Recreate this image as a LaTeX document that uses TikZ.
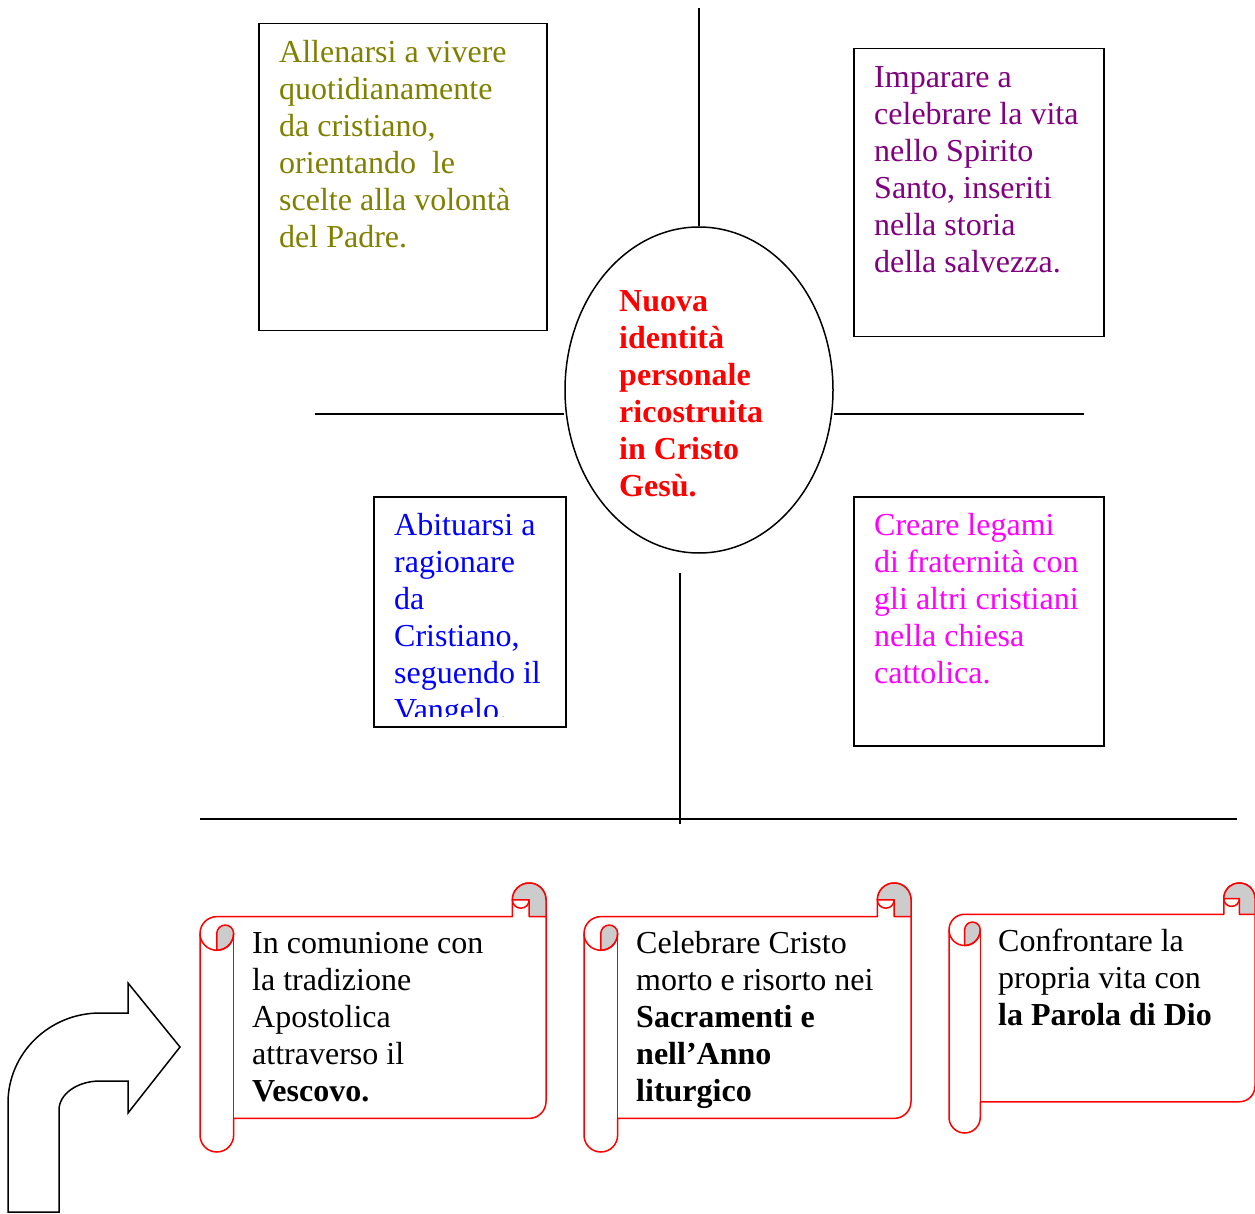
\documentclass[tikz,border=0pt]{standalone}
\usepackage{fontspec}
\setmainfont{Liberation Serif}
\usetikzlibrary{shapes.geometric}

\definecolor{oliva}{RGB}{128,128,0}
\definecolor{viola}{RGB}{128,0,128}
\definecolor{fucsia}{RGB}{255,0,255}
\definecolor{grigio}{RGB}{204,204,204}

\tikzset{
  quadro/.style={draw,line width=1.5pt,inner sep=0,anchor=north west},
  testo/.style={anchor=north west,inner sep=0,align=left,font=\fontsize{32}{37}\selectfont},
  linea/.style={line width=1.5pt},
  bordorotolo/.style={draw=red,line width=1.5pt,line join=round}
}

% scroll: left, top, right, bottom
\newcommand{\rotolo}[4]{%
  \pgfmathsetmacro{\cc}{min(#3-#1,#4-#2)/8}%
  \pgfmathsetmacro{\hh}{\cc/2}%
  \pgfmathsetmacro{\qq}{\cc/4}%
  \draw[bordorotolo,fill=white] (#3,#2+\hh) -- (#3,#4-\cc-\hh)
    arc[start angle=0,end angle=90,radius=\hh] -- (#1+\cc,#4-\cc) -- (#1+\cc,#4-\hh)
    arc[start angle=0,end angle=180,radius=\hh] -- (#1,#2+\cc+\hh)
    arc[start angle=180,end angle=270,radius=\hh] -- (#3-\cc,#2+\cc) -- (#3-\cc,#2+\hh)
    arc[start angle=180,end angle=360,radius=\hh] -- cycle;
  \draw[bordorotolo,fill=grigio] (#3-\cc,#2+\hh) arc[start angle=180,end angle=360,radius=\hh]
    -- (#3,#2+\cc) -- (#3-\hh,#2+\cc) -- (#3-\hh,#2+\hh) -- cycle;
  \draw[bordorotolo] (#3-\hh,#2+\hh) arc[start angle=0,end angle=180,radius=\qq];
  \draw[bordorotolo,fill=grigio] (#1+\hh,#2+\cc+\hh) arc[start angle=180,end angle=360,radius=\qq]
    arc[start angle=0,end angle=90,radius=\hh] -- cycle;
  \draw[bordorotolo] (#1,#2+\cc+\hh) arc[start angle=180,end angle=0,radius=\hh];
  \draw[bordorotolo] (#1+\cc,#2+\cc+\hh) -- (#1+\cc,#4-\cc);
}

\begin{document}
\begin{tikzpicture}[x=1pt,y=-1pt]
  \useasboundingbox (0,0) rectangle (1255,1214);

  % quadrants
  \node[quadro,minimum width=288pt,minimum height=307pt] (allenarsi) at (258,23) {};
  \node[testo,text=oliva] (allenarsi-t) at ([xshift=21pt,yshift=-13pt]allenarsi.north west)
    {\strut Allenarsi a vivere\\ quotidianamente\\ da cristiano,\\ orientando\ \ le\\ scelte alla volontà\\ del Padre.};

  \node[quadro,minimum width=250pt,minimum height=288pt] (imparare) at (853,48) {};
  \node[testo,text=viola] (imparare-t) at ([xshift=21pt,yshift=-13pt]imparare.north west)
    {\strut Imparare a\\ celebrare la vita\\ nello Spirito\\ Santo, inseriti\\ nella storia\\ della salvezza.};

  \node[quadro,minimum width=192pt,minimum height=230pt] (abituarsi) at (373,496) {};
  \begin{scope}
    \clip (374,497) rectangle (564,716);
    \node[testo,text=blue] (abituarsi-t) at ([xshift=21pt,yshift=-13pt]abituarsi.north west)
      {\strut Abituarsi a\\ ragionare\\ da\\ Cristiano,\\ seguendo il\\ Vangelo.};
  \end{scope}

  \node[quadro,minimum width=250pt,minimum height=249pt] (creare) at (853,496) {};
  \node[testo,text=fucsia] (creare-t) at ([xshift=21pt,yshift=-13pt]creare.north west)
    {\strut Creare legami\\ di fraternità con\\ gli altri cristiani\\ nella chiesa\\ cattolica.};

  % centre
  \node[draw,ellipse,line width=1.5pt,minimum width=268pt,minimum height=326pt,inner sep=0] (identita) at (699,390) {};
  \node[testo,text=red,font=\fontsize{32}{37}\selectfont\bfseries] (identita-t) at (619,285)
    {\strut Nuova\\ identità\\ personale\\ ricostruita\\ in Cristo\\ Gesù.};

  \coordinate (su) at (699,8);
  \coordinate (sx) at (315,414);
  \coordinate (dx) at (1084,414);
  \coordinate (giu1) at (680,573);
  \coordinate (giu2) at (680,824);
  \coordinate (base1) at (200,819);
  \coordinate (base2) at (1237,819);
  \draw[linea] (su) -- (identita.north);
  \draw[linea] (sx) -- (sx -| identita.west);
  \draw[linea] (dx) -- (dx -| identita.east);
  \draw[linea] (giu1) -- (giu2);
  \draw[linea] (base1) -- (base2);

  % scrolls
  \rotolo{200}{883}{546}{1152}
  \node[testo] (comunione) at (252,927)
    {\strut In comunione con\\ la tradizione\\ Apostolica\\ attraverso il\\ \textbf{Vescovo.}};
  \rotolo{584}{883}{911}{1152}
  \node[testo] (celebrare) at (636,927)
    {\strut Celebrare Cristo\\ morto e risorto nei\\ \textbf{Sacramenti e}\\ \textbf{nell’Anno}\\ \textbf{liturgico}};
  \rotolo{949}{883}{1255}{1133}
  \node[testo] (confrontare) at (998,925)
    {\strut Confrontare la\\ propria vita con\\ \textbf{la Parola di Dio}};

  % bent arrow
  \draw[linea,line join=miter] (8,1212) -- (8,1103)
    arc[start angle=180,end angle=270,x radius=92,y radius=90] -- (128,1013) -- (128,983)
    -- (180,1047) -- (128,1113) -- (128,1081) -- (100,1081)
    arc[start angle=270,end angle=180,x radius=41,y radius=29] -- (59,1212) -- cycle;
\end{tikzpicture}
\end{document}
